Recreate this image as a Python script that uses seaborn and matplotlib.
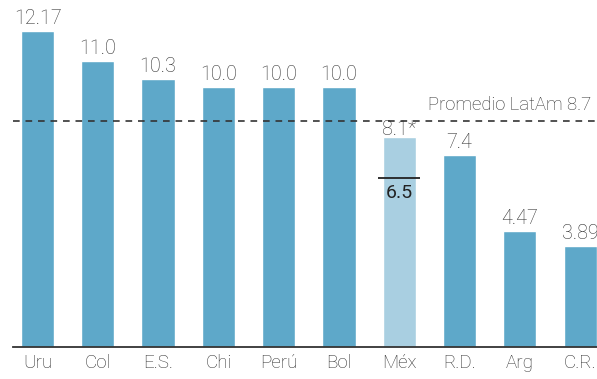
import matplotlib
matplotlib.use("Agg")
import matplotlib.pyplot as plt
import seaborn as sns
import pandas as pd

countries = ["Uru", "Col", "E.S.", "Chi", "Perú", "Bol", "Méx", "R.D.", "Arg", "C.R."]
values = [12.17, 11.0, 10.3, 10.0, 10.0, 10.0, 8.1, 7.4, 4.47, 3.89]
value_labels = ["12.17", "11.0", "10.3", "10.0", "10.0", "10.0", "8.1*", "7.4", "4.47", "3.89"]
latam_avg = 8.7
mex_mark = 6.5

base_color = "#5ea8c9"
light_color = "#a9cfe1"
text_color = "#303030"

sns.set_theme(style="white")
plt.rcParams["font.family"] = ["Roboto", "DejaVu Sans"]

df = pd.DataFrame({"pais": countries, "valor": values})
palette = {c: (light_color if c == "Méx" else base_color) for c in countries}

fig = plt.figure(figsize=(5.97, 3.79), dpi=100)
ax = fig.add_axes([13 / 597, 32 / 379, 584 / 597, 347 / 379])

sns.barplot(data=df, x="pais", y="valor", hue="pais", palette=palette,
            width=0.55, legend=False, saturation=1, ax=ax)

ax.set_xlim(-0.406, 9.28)
ax.set_ylim(0, 13.36)

# LatAm average reference line
ax.axhline(latam_avg, color="#333333", lw=1.2, ls=(0, (4, 3.5)), zorder=3)
ax.text(9.18, latam_avg + 0.28, f"Promedio LatAm {latam_avg}", ha="right", va="bottom",
        fontsize=13.3, color=text_color, fontweight="light")

# value labels above bars (the estimate for Méx sits tight under the average line)
mi = countries.index("Méx")
for i, (v, lab) in enumerate(zip(values, value_labels)):
    off = -0.08 if i == mi else 0.12
    ax.text(i, v + off, lab, ha="center", va="bottom", fontsize=14.2,
            color=text_color, fontweight="light", zorder=5)

# Mexico secondary marker
ax.hlines(mex_mark, mi - 0.35, mi + 0.35, color="#222222", lw=1.3, zorder=4)
ax.text(mi, mex_mark - 0.22, f"{mex_mark}", ha="center", va="top", fontsize=14,
        color="#222222", zorder=4)

for s in ["top", "right", "left"]:
    ax.spines[s].set_visible(False)
ax.spines["bottom"].set_color("#333333")
ax.spines["bottom"].set_linewidth(1.3)
ax.set_yticks([])
ax.set_xlabel("")
ax.set_ylabel("")
ax.tick_params(axis="x", length=0, pad=5, labelsize=13.5, labelcolor=text_color)
for t in ax.get_xticklabels():
    t.set_fontweight("light")

fig.savefig("out.png", dpi=100)
